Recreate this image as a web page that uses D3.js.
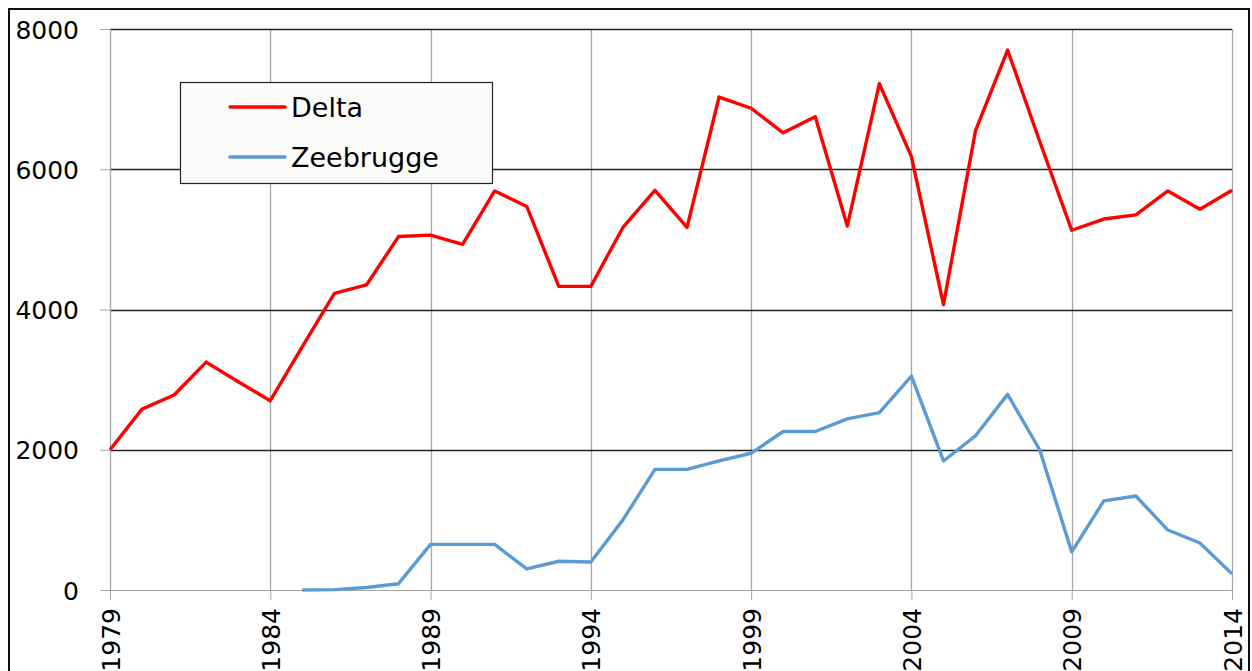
<!DOCTYPE html>
<html>
<head>
<meta charset="utf-8">
<script src="https://cdn.jsdelivr.net/npm/d3@7"></script>
<style>
  body { margin: 0; background: #fff; }
  svg text { font-family: "DejaVu Sans", Verdana, sans-serif; fill: #000; }
</style>
</head>
<body>
<div id="chart"></div>
<script>
// data
var years = d3.range(1979, 2015);
var delta = [2000, 2580, 2780, 3250, 2970, 2700, 3470, 4230, 4350, 5040,
             5060, 4930, 5690, 5470, 4330, 4330, 5170, 5700, 5170, 7030,
             6870, 6520, 6750, 5190, 7220, 6180, 4070, 6550, 7700, 6400,
             5130, 5290, 5350, 5690, 5430, 5700];
// Zeebrugge starts in 1985
var zeebrugge = [null, null, null, null, null, null, 0, 5, 35, 90,
                 650, 650, 650, 300, 410, 400, 1000, 1720, 1720, 1840,
                 1950, 2260, 2260, 2440, 2530, 3050, 1840, 2200, 2790, 2000,
                 545, 1270, 1340, 855, 670, 230];
var yTicks = [0, 2000, 4000, 6000, 8000];
var xTicks = [1979, 1984, 1989, 1994, 1999, 2004, 2009, 2014];
var seriesNames = ["Delta", "Zeebrugge"];
var seriesColors = ["#ff0000", "#5b9bd5"];

var width = 1252, height = 671;
var plotLeft = 110, plotRight = 1232, plotTop = 29, plotBottom = 590;

var svg = d3.select("#chart").append("svg")
    .attr("width", width).attr("height", height);

// outer chart frame
svg.append("rect")
    .attr("x", 9).attr("y", 9)
    .attr("width", 1240).attr("height", 700)
    .attr("fill", "none").attr("stroke", "#111").attr("stroke-width", 2);

var x = d3.scaleLinear().domain([1979, 2014]).range([plotLeft, plotRight]);
var y = d3.scaleLinear().domain([0, 8000]).range([plotBottom, plotTop]);

// vertical grid (gray)
svg.append("g").selectAll("line")
    .data(xTicks)
    .enter().append("line")
    .attr("x1", function(d) { return Math.round(x(d)) + 0.5; })
    .attr("x2", function(d) { return Math.round(x(d)) + 0.5; })
    .attr("y1", plotTop).attr("y2", plotBottom)
    .attr("stroke", "#a6a6a6").attr("stroke-width", 1.3);

// horizontal grid (black)
svg.append("g").selectAll("line")
    .data(yTicks.slice(1))
    .enter().append("line")
    .attr("x1", plotLeft).attr("x2", plotRight)
    .attr("y1", function(d) { return Math.round(y(d)) + 0.5; })
    .attr("y2", function(d) { return Math.round(y(d)) + 0.5; })
    .attr("stroke", "#222").attr("stroke-width", 1.3);

// y axis
var yAxis = d3.axisLeft(y).tickValues(yTicks).tickSize(10).tickPadding(21)
    .tickFormat(d3.format("d"));
var gy = svg.append("g").attr("transform", "translate(" + plotLeft + ",0)").call(yAxis);
gy.select(".domain").attr("stroke", "#a6a6a6");
gy.selectAll(".tick line").attr("stroke", "#a6a6a6");
gy.selectAll("text").style("font-size", "25px").attr("dy", "0.36em");

// x axis, labels rotated and running off the bottom like the original
var xAxis = d3.axisBottom(x).tickValues(xTicks).tickSize(10).tickFormat(d3.format("d"));
var gx = svg.append("g").attr("transform", "translate(0," + plotBottom + ")").call(xAxis);
gx.select(".domain").attr("stroke", "#a6a6a6");
gx.selectAll(".tick line").attr("stroke", "#a6a6a6");
gx.selectAll("text")
    .style("font-size", "25px")
    .attr("transform", "rotate(-90)")
    .attr("text-anchor", "end")
    .attr("x", -18).attr("y", 0).attr("dy", "0.36em");

// lines
var line = d3.line()
    .defined(function(d) { return d != null; })
    .x(function(d, i) { return x(years[i]); })
    .y(function(d) { return y(d); });

[delta, zeebrugge].forEach(function(s, k) {
  svg.append("path")
      .datum(s)
      .attr("d", line)
      .attr("fill", "none")
      .attr("stroke", seriesColors[k])
      .attr("stroke-width", 3.4)
      .attr("stroke-linejoin", "round");
});

// legend
var lg = svg.append("g").attr("transform", "translate(180,82)");
lg.append("rect")
    .attr("x", 0.5).attr("y", 0.5).attr("width", 312).attr("height", 101)
    .attr("fill", "#fbfbf9").attr("stroke", "#222").attr("stroke-width", 1.2);
seriesNames.forEach(function(name, k) {
  var ly = 25 + k * 50;
  lg.append("line")
      .attr("x1", 50).attr("x2", 105).attr("y1", ly).attr("y2", ly)
      .attr("stroke", seriesColors[k]).attr("stroke-width", 3.4)
      .attr("stroke-linecap", "round");
  lg.append("text")
      .attr("x", 111).attr("y", ly).attr("dy", "0.36em")
      .style("font-size", "27px")
      .text(name);
});
</script>
</body>
</html>
